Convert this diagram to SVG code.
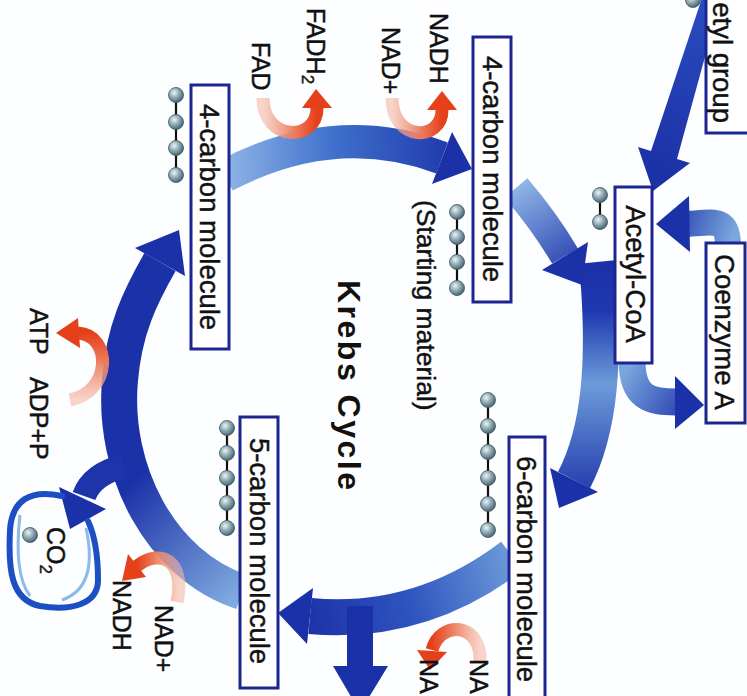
<svg xmlns="http://www.w3.org/2000/svg" width="747" height="696" viewBox="0 0 747 696">
<style>
.box{fill:#fff;stroke:#1c2590;stroke-width:3}
.bt{font-family:"Liberation Sans",Arial,sans-serif;font-size:27.5px;fill:#111;stroke:#111;stroke-width:0.45}
.lb{font-family:"Liberation Sans",Arial,sans-serif;font-size:25px;fill:#111;stroke:#111;stroke-width:0.45}
.ttl{font-family:"Liberation Sans",Arial,sans-serif;font-size:32px;font-weight:bold;fill:#111}
.chain{stroke:#111;stroke-width:2.2;fill:none}
.ball{fill:url(#ball);stroke:#3b5560;stroke-width:0.8}
.big{fill:none;stroke-linecap:butt}
.dark{fill:#1b31a8}
.red{fill:none;stroke-width:13;stroke-linecap:butt}
.rh{fill:#e5401a}
</style>
<defs>
<radialGradient id="ball" cx="0.38" cy="0.35" r="0.7">
<stop offset="0" stop-color="#eef4f5"/><stop offset="0.45" stop-color="#93aeb8"/><stop offset="1" stop-color="#3f5d69"/>
</radialGradient>
<linearGradient id="gTop" gradientUnits="userSpaceOnUse" x1="225" y1="172" x2="470" y2="160">
<stop offset="0" stop-color="#8fb5e6"/><stop offset="0.45" stop-color="#3f70cc"/><stop offset="1" stop-color="#1b31a8"/>
</linearGradient>
<linearGradient id="gB" gradientUnits="userSpaceOnUse" x1="516" y1="188" x2="580" y2="280">
<stop offset="0" stop-color="#8fb5e6"/><stop offset="1" stop-color="#1b31a8"/>
</linearGradient>
<linearGradient id="gRight" gradientUnits="userSpaceOnUse" x1="0" y1="262" x2="0" y2="505">
<stop offset="0" stop-color="#1b31a8"/><stop offset="0.2" stop-color="#1e38b0"/><stop offset="0.5" stop-color="#6c9bd9"/><stop offset="1" stop-color="#1b31a8"/>
</linearGradient>
<linearGradient id="gCoA1" gradientUnits="userSpaceOnUse" x1="730" y1="246" x2="660" y2="224">
<stop offset="0" stop-color="#7aa6de"/><stop offset="1" stop-color="#1b31a8"/>
</linearGradient>
<linearGradient id="gCoA2" gradientUnits="userSpaceOnUse" x1="632" y1="360" x2="704" y2="405">
<stop offset="0" stop-color="#7aa6de"/><stop offset="1" stop-color="#1b31a8"/>
</linearGradient>
<linearGradient id="gBot" gradientUnits="userSpaceOnUse" x1="512" y1="556" x2="300" y2="616">
<stop offset="0" stop-color="#6d9bd9"/><stop offset="0.5" stop-color="#2f55bf"/><stop offset="1" stop-color="#1b31a8"/>
</linearGradient>
<linearGradient id="gLeft" gradientUnits="userSpaceOnUse" x1="242" y1="592" x2="135" y2="480">
<stop offset="0" stop-color="#7faadf"/><stop offset="1" stop-color="#1b31a8"/>
</linearGradient>
<linearGradient id="gAc" gradientUnits="userSpaceOnUse" x1="712" y1="0" x2="650" y2="190">
<stop offset="0" stop-color="#2a4cc0"/><stop offset="1" stop-color="#1a2fa3"/>
</linearGradient>
<linearGradient id="rLR" x1="0" y1="0" x2="1" y2="0">
<stop offset="0" stop-color="#f4b7a6" stop-opacity="0.6"/><stop offset="0.6" stop-color="#ec7a5a"/><stop offset="1" stop-color="#e5401a"/>
</linearGradient>
<linearGradient id="rRL" x1="1" y1="0" x2="0" y2="0">
<stop offset="0" stop-color="#f4b7a6" stop-opacity="0.6"/><stop offset="0.6" stop-color="#ec7a5a"/><stop offset="1" stop-color="#e5401a"/>
</linearGradient>
<linearGradient id="rBT" x1="0" y1="1" x2="0" y2="0">
<stop offset="0" stop-color="#f4b7a6" stop-opacity="0.6"/><stop offset="0.6" stop-color="#ec7a5a"/><stop offset="1" stop-color="#e5401a"/>
</linearGradient>
</defs>
<rect width="747" height="696" fill="#fdfeff"/>

<g id="connectors">
<!-- top arc: 4-carbon -> 4-carbon (starting) -->
<path class="big" d="M 225 176 Q 335 118 442 158" stroke="url(#gTop)" stroke-width="33"/>
<polygon class="dark" points="452,132 432,184 472,169"/>
<!-- starting 4-carbon -> cycle -->
<path class="big" d="M 516 188 Q 545 222 565 256" stroke="url(#gB)" stroke-width="30"/>
<!-- right arc -> 6-carbon -->
<path class="big" d="M 597 262 C 606 360 600 430 574 480" stroke="url(#gRight)" stroke-width="36"/>
<polygon class="dark" points="598,492 550,468 559,508"/>
<polygon class="dark" points="588,242 542,270 582,285"/>
<!-- acetyl group -> acetyl-CoA -->
<polygon fill="url(#gAc)" points="702,-2 720,2 677,159 690,163 653,191 638,147 651,151"/>
<!-- coenzyme A -> acetyl-CoA -->
<path class="big" d="M 728 246 C 728 218 716 222 688 224" stroke="url(#gCoA1)" stroke-width="26"/>
<polygon class="dark" points="689,196 690,252 656,224"/>
<!-- acetyl-CoA -> coenzyme A -->
<path class="big" d="M 632 360 C 632 398 650 402 676 402" stroke="url(#gCoA2)" stroke-width="27"/>
<polygon class="dark" points="675,376 675,429 704,405"/>
<!-- bottom arc: 6-carbon -> 5-carbon -->
<path class="big" d="M 512 556 Q 420 626 310 616" stroke="url(#gBot)" stroke-width="36"/>
<polygon class="dark" points="313,588 307,644 278,613"/>
<!-- downward branch -->
<path class="big" d="M 360 606 L 360 668" stroke="#1b31a8" stroke-width="26"/>
<polygon class="dark" points="333,666 388,666 360,712"/>
<!-- left arc: 5-carbon -> 4-carbon -->
<path class="big" d="M 242 592 C 160 565 112 470 120 380 C 124 330 140 297 160 262" stroke="url(#gLeft)" stroke-width="36"/>
<polygon class="dark" points="185,276 135,248 179,230"/>
<!-- CO2 branch -->
<path class="big" d="M 124 466 Q 92 474 84 496" stroke="#1d34ab" stroke-width="24"/>
<polygon class="dark" points="59,487 106,509 70,529"/>

<!-- red side arrows -->
<path class="red" d="M 263 98 C 263 142 317 142 317 108" stroke="url(#rLR)"/>
<polygon class="rh" points="302,108 332,108 316,89"/>
<path class="red" d="M 392 98 C 392 142 442 142 442 110" stroke="url(#rLR)"/>
<polygon class="rh" points="427,110 457,110 442,91"/>
<path class="red" d="M 70 400 C 112 392 112 335 78 333" stroke="url(#rBT)"/>
<polygon class="rh" points="78,318 80,348 56,333"/>
<path class="red" d="M 177 602 C 186 560 160 548 137 566" stroke="url(#rRL)"/>
<polygon class="rh" points="128,554 146,577 122,581"/>
<path class="red" d="M 480 662 C 482 622 440 620 432 650" stroke="url(#rRL)"/>
<polygon class="rh" points="417,650 447,652 430,670"/>
</g>

<g id="co2">
<path d="M 62 496 C 30 489 12 500 10 530 C 8 570 11 600 40 606 C 70 611 98 605 98 580 C 98 556 95 536 88 521" fill="none" stroke="#1d4fc4" stroke-width="6" stroke-linecap="round"/>
<path d="M 86 528 C 93 560 91 590 62 600 M 20 515 C 16 550 18 580 30 596" fill="none" stroke="#5d9de0" stroke-width="3" opacity="0.7"/>
<circle class="ball" cx="30" cy="535" r="7.5"/>
<text class="lb" transform="translate(47,527) rotate(90)">CO<tspan font-size="17" dy="7">2</tspan></text>
</g>

<g id="acetyl-group">
<rect class="box" x="706" y="-10" width="44" height="143"/>
<text class="bt" transform="translate(713,123) rotate(90)" text-anchor="end">etyl group</text>
<circle class="ball" cx="693" cy="0" r="7.5"/>
</g>

<g id="acetyl-coa">
<rect class="box" x="615" y="187" width="37" height="176"/>
<text class="bt" transform="translate(626,274) rotate(90)" text-anchor="middle">Acetyl-CoA</text>
<line class="chain" x1="600" y1="195" x2="600" y2="222"/>
<circle class="ball" cx="600" cy="195" r="7.5"/>
<circle class="ball" cx="600" cy="222" r="7.5"/>
</g>

<g id="coenzyme-a">
<rect class="box" x="706" y="243" width="39" height="180"/>
<text class="bt" transform="translate(715,332) rotate(90)" text-anchor="middle">Coenzyme A</text>
</g>

<g id="four-carbon-start">
<rect class="box" x="473" y="37" width="38" height="265"/>
<text class="bt" transform="translate(483,169) rotate(90)" text-anchor="middle">4-carbon molecule</text>
<line class="chain" x1="457" y1="212" x2="457" y2="288"/>
<circle class="ball" cx="457" cy="212" r="7.5"/>
<circle class="ball" cx="457" cy="237" r="7.5"/>
<circle class="ball" cx="457" cy="262" r="7.5"/>
<circle class="ball" cx="457" cy="288" r="7.5"/>
<text class="lb" style="font-size:26.5px" transform="translate(417,200) rotate(90)">(Starting material)</text>
</g>

<g id="title">
<text class="ttl" transform="translate(338,280) rotate(90)" textLength="210" lengthAdjust="spacing">Krebs Cycle</text>
</g>

<g id="four-carbon-left">
<rect class="box" x="191" y="85" width="38" height="264"/>
<text class="bt" transform="translate(200,217) rotate(90)" text-anchor="middle">4-carbon molecule</text>
<line class="chain" x1="176" y1="95" x2="176" y2="175"/>
<circle class="ball" cx="176" cy="95" r="7.5"/>
<circle class="ball" cx="176" cy="122" r="7.5"/>
<circle class="ball" cx="176" cy="148" r="7.5"/>
<circle class="ball" cx="176" cy="175" r="7.5"/>
</g>

<g id="six-carbon">
<rect class="box" x="509" y="437" width="36" height="275"/>
<text class="bt" transform="translate(517,569) rotate(90)" text-anchor="middle">6-carbon molecule</text>
<line class="chain" x1="488" y1="400" x2="488" y2="530"/>
<circle class="ball" cx="488" cy="400" r="7.5"/>
<circle class="ball" cx="488" cy="426" r="7.5"/>
<circle class="ball" cx="488" cy="452" r="7.5"/>
<circle class="ball" cx="488" cy="478" r="7.5"/>
<circle class="ball" cx="488" cy="504" r="7.5"/>
<circle class="ball" cx="488" cy="530" r="7.5"/>
</g>

<g id="five-carbon">
<rect class="box" x="240" y="417" width="38" height="271"/>
<text class="bt" transform="translate(250,551) rotate(90)" text-anchor="middle">5-carbon molecule</text>
<line class="chain" x1="227" y1="428" x2="227" y2="528"/>
<circle class="ball" cx="227" cy="428" r="7.5"/>
<circle class="ball" cx="227" cy="453" r="7.5"/>
<circle class="ball" cx="227" cy="478" r="7.5"/>
<circle class="ball" cx="227" cy="503" r="7.5"/>
<circle class="ball" cx="227" cy="528" r="7.5"/>
</g>

<g id="labels">
<text class="lb" transform="translate(307,8) rotate(90)">FADH<tspan font-size="17" dy="5">2</tspan></text>
<text class="lb" transform="translate(252,42) rotate(90)">FAD</text>
<text class="lb" transform="translate(382,27) rotate(90)">NAD+</text>
<text class="lb" transform="translate(430,13) rotate(90)">NADH</text>
<text class="lb" transform="translate(30,308) rotate(90)">ATP</text>
<text class="lb" transform="translate(30,377) rotate(90)">ADP+P</text>
<text class="lb" transform="translate(155,605) rotate(90)">NAD+</text>
<text class="lb" transform="translate(113,580) rotate(90)">NADH</text>
<text class="lb" transform="translate(420,659) rotate(90)">NA</text>
<text class="lb" transform="translate(470,659) rotate(90)">NA</text>
</g>
</svg>
